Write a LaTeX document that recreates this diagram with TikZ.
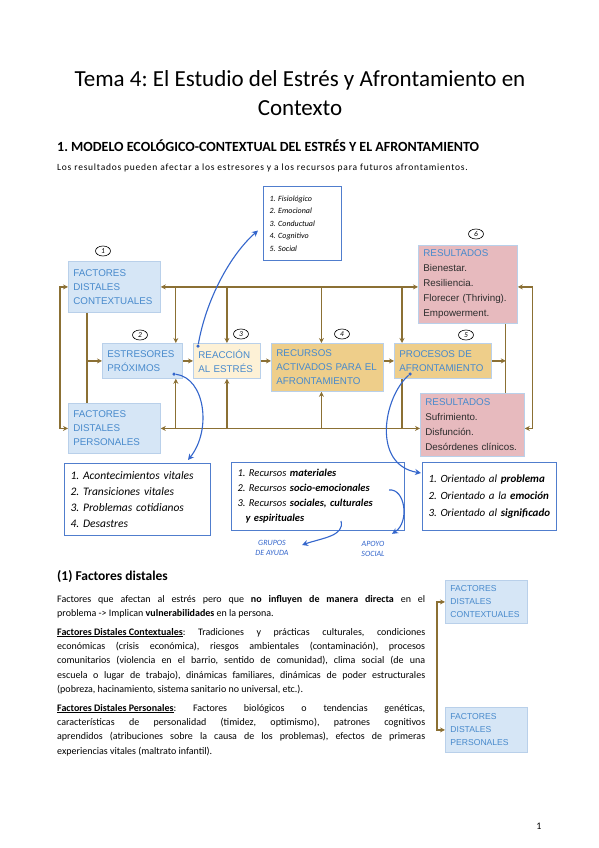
\documentclass[tikz,border=0pt]{standalone}
\usepackage{fontspec}
\setmainfont{Carlito}
\newfontfamily\arialfont{Liberation Sans}
\usetikzlibrary{arrows.meta,positioning,calc,shapes.geometric}
\frenchspacing

\definecolor{flowbrown}{RGB}{139,112,52}
\definecolor{blueedge}{RGB}{185,208,234}
\definecolor{bluefill}{RGB}{214,230,246}
\definecolor{bluetext}{RGB}{72,138,204}
\definecolor{creamfill}{RGB}{253,241,214}
\definecolor{tanfill}{RGB}{238,206,138}
\definecolor{pinkfill}{RGB}{231,186,190}
\definecolor{darktext}{RGB}{45,45,45}
\definecolor{inkblue}{RGB}{52,102,204}
\definecolor{handedge}{RGB}{80,125,205}

\tikzset{
  flow/.style={draw=flowbrown,line width=1.3pt,>={Stealth[length=5pt,width=5pt]}},
  ink/.style={draw=inkblue,line width=1.1pt,>={Stealth[length=6pt,width=6pt]}},
  model/.style={draw=blueedge,line width=0.8pt,anchor=north west,align=left,inner xsep=5pt,inner ysep=2pt,
    font=\arialfont\fontsize{9.8}{14}\selectfont,text=bluetext},
  outcome/.style={model,fill=pinkfill,text=darktext,font=\arialfont\fontsize{9.8}{15}\selectfont},
  handbox/.style={draw=handedge,line width=1pt,anchor=north west,align=left,inner xsep=6pt,inner ysep=2pt},
  numcirc/.style={ellipse,draw,line width=0.6pt,inner sep=0.5pt,minimum width=15pt,minimum height=10pt,
    font=\itshape\fontsize{7.5}{8}\selectfont},
  inkdot/.style={circle,fill=inkblue,inner sep=0pt,minimum size=3.5pt},
  inknote/.style={text=inkblue,align=center,font=\itshape\fontsize{8}{10}\selectfont},
  para/.style={anchor=north west,text width=368pt,align=justify,inner sep=0pt,font=\fontsize{10}{14.3}\selectfont}
}

\begin{document}
\begin{tikzpicture}[x=1pt,y=-1pt]
\path[use as bounding box,fill=white] (0,0) rectangle (599,848);

% title and intro
\node[align=center,font=\fontsize{23}{29}\selectfont] (title) at (300,93) {Tema 4: El Estudio del Estrés y Afrontamiento en\\Contexto};
\node[anchor=west,inner sep=0pt,font=\bfseries\fontsize{14}{16}\selectfont] (head) at (57,146) {1. MODELO ECOLÓGICO-CONTEXTUAL DEL ESTRÉS Y EL AFRONTAMIENTO};
\node[anchor=west,inner sep=0pt,font=\fontsize{9.5}{11}\selectfont\addfontfeature{LetterSpace=8}] (intro) at (57,168) {Los resultados pueden afectar a los estresores y a los recursos para futuros afrontamientos.};

% model boxes
\node[model,fill=bluefill,text width=82pt,minimum height=51pt] (fdc) at (68,261) {FACTORES\\DISTALES\\CONTEXTUALES};
\node[model,fill=bluefill,text width=82pt,minimum height=50pt] (fdp) at (68,403) {FACTORES\\DISTALES\\PERSONALES};
\node[model,fill=bluefill,text width=70pt,minimum height=35pt] (est) at (102,343) {ESTRESORES\\PRÓXIMOS};
\node[model,fill=creamfill,text width=57pt,minimum height=35pt] (rea) at (193,343) {REACCIÓN\\AL ESTRÉS};
\node[model,fill=tanfill,text width=102pt,minimum height=48pt] (rec) at (271,343) {RECURSOS\\ACTIVADOS PARA EL\\AFRONTAMIENTO};
\node[model,fill=tanfill,text width=87pt,minimum height=35pt] (pro) at (394,343) {PROCESOS DE\\AFRONTAMIENTO};
\node[outcome,text width=89pt,minimum height=78pt] (res1) at (418,245) {\textcolor{bluetext}{RESULTADOS}\\Bienestar.\\Resiliencia.\\Florecer (Thriving).\\Empowerment.};
\node[outcome,text width=94pt,minimum height=63pt] (res2) at (420,393) {\textcolor{bluetext}{RESULTADOS}\\Sufrimiento.\\Disfunción.\\Desórdenes clínicos.};

% circled numbers
\node[numcirc] (n1) at (103,251) {1};
\node[numcirc] (n2) at (140,335) {2};
\node[numcirc] (n3) at (241,334) {3};
\node[numcirc] (n4) at (342,334) {4};
\node[numcirc] (n5) at (466,335) {5};
\node[numcirc] (n6) at (476,234) {6};

% connectors
\coordinate (xest) at ([xshift=-7pt]est.north east);
\coordinate (xrea) at (rea.north);
\coordinate (xrec) at ([xshift=-6pt]rec.north);
\coordinate (xpro) at ([xshift=8pt]pro.north west);
\coordinate (xspine) at ([xshift=19pt]fdc.south west);
\coordinate (xres) at ([xshift=-12pt]res1.south east);
\draw[flow,<->] (fdc.east) -- (fdc.east -| res1.west);
\draw[flow,<->] (fdp.east) -- (fdp.east -| res2.west);
\foreach \c/\b in {xest/est,xrea/rea,xrec/rec,xpro/pro}
  \draw[flow,->] (\c |- fdc.east) -- (\c |- \b.north);
\foreach \c/\b in {xest/est,xrea/rea,xrec/rec}
  \draw[flow,->] (\c |- fdp.east) -- (\c |- \b.south);
\draw[flow] (xpro |- fdp.east) -- (xpro |- pro.south);
\draw[flow] (xspine) -- (xspine |- fdp.north);
\draw[flow,->] (xspine |- est.west) -- (est.west);
\draw[flow,<->] (fdc.west) -- ++(-8,0) |- (fdp.west);
\draw[flow,->] (est.east) -- (rea.west);
\draw[flow,->] (rea.east) -- (rea.east -| rec.west);
\draw[flow,->] (rec.east |- pro.west) -- (pro.west);
\draw[flow] (xres) -- (xres |- res2.north);
\draw[flow,->] (pro.east) -- (pro.east -| xres);
\draw[flow,<->] (res1.east |- fdc.east) -- ++(15,0) |- (res2.east |- fdp.east);

% handwritten notes
\node[handbox,text width=66pt,minimum height=74pt,font=\itshape\fontsize{8}{12.5}\selectfont] (tophand) at (263,186)
  {1. Fisiológico\\2. Emocional\\3. Conductual\\4. Cognitivo\\5. Social};
\node[handbox,text width=134pt,minimum height=72pt,font=\itshape\fontsize{11.5}{16}\selectfont] (hand1) at (64,463)
  {1. Acontecimientos vitales\\2. Transiciones vitales\\3. Problemas cotidianos\\4. Desastres};
\node[handbox,text width=161pt,minimum height=68pt,font=\itshape\fontsize{10.5}{15}\selectfont] (hand2) at (231,462)
  {1. Recursos \textbf{materiales}\\2. Recursos \textbf{socio-emocionales}\\3. Recursos \textbf{sociales, culturales}\\\hspace*{8pt}\textbf{y espirituales}};
\node[handbox,text width=122pt,minimum height=68pt,font=\itshape\fontsize{11}{17}\selectfont] (hand3) at (422,462)
  {1. Orientado al \textbf{problema}\\2. Orientado a la \textbf{emoción}\\3. Orientado al \textbf{significado}};
\node[inknote] (grupos) at (272,548) {GRUPOS\\DE AYUDA};
\node[inknote] (apoyo) at (373,549) {APOYO\\SOCIAL};

% blue ink arrows
\node[inkdot] (dotrea) at (198,346) {};
\node[inkdot] (dotest) at (174,374) {};
\node[inkdot] (dotpro) at (410,374) {};
\draw[ink,->] (dotrea) .. controls (206,300) and (230,255) .. ([shift={(-5,7)}]tophand.west);
\draw[ink,->] (dotest) .. controls (205,378) and (212,430) .. ([shift={(-23,-3)}]hand1.north east);
\draw[ink,->] (dotpro) .. controls (383,398) and (372,465) .. ([shift={(-1,11)}]hand3.north west);
\draw[ink,->] ([shift={(-64,-10)}]hand2.south east) .. controls (345,536) and (322,538) .. ([shift={(10,-3)}]grupos.east);
\draw[ink,->] ([shift={(-16,28)}]hand2.north east) .. controls (405,488) and (410,522) .. ([shift={(4,-4)}]apoyo.north east);

% section (1)
\node[anchor=west,inner sep=0pt,font=\bfseries\fontsize{13.5}{16}\selectfont] (sec1) at (57,577) {(1) Factores distales};
\node[para] (p1) at (57,595) {Factores que afectan al estrés pero que \textbf{no influyen de manera directa} en el\linebreak problema -> Implican \textbf{vulnerabilidades} en la persona.};
\node[para] (p2) at (57,628) {\underline{\textbf{Factores Distales Contextuales}}: Tradiciones y prácticas culturales, condiciones\linebreak económicas (crisis económica), riesgos ambientales (contaminación), procesos\linebreak comunitarios (violencia en el barrio, sentido de comunidad), clima social (de una\linebreak escuela o lugar de trabajo), dinámicas familiares, dinámicas de poder estructurales\linebreak (pobreza, hacinamiento, sistema sanitario no universal, etc.).};
\node[para] (p3) at (57,704) {\underline{\textbf{Factores Distales Personales}}: Factores biológicos o tendencias genéticas,\linebreak características de personalidad (timidez, optimismo), patrones cognitivos\linebreak aprendidos (atribuciones sobre la causa de los problemas), efectos de primeras\linebreak experiencias vitales (maltrato infantil).};

% side boxes
\node[model,fill=bluefill,text width=72pt,minimum height=43pt,font=\arialfont\fontsize{8.6}{13}\selectfont] (rfdc) at (445,580) {FACTORES\\DISTALES\\CONTEXTUALES};
\node[model,fill=bluefill,text width=72pt,minimum height=45pt,font=\arialfont\fontsize{8.6}{13}\selectfont] (rfdp) at (445,707) {FACTORES\\DISTALES\\PERSONALES};
\draw[flow,<->] (rfdc.west) -- ++(-8,0) |- (rfdp.west);

\node[font=\fontsize{10}{12}\selectfont] (pageno) at (539,826) {1};
\end{tikzpicture}
\end{document}
